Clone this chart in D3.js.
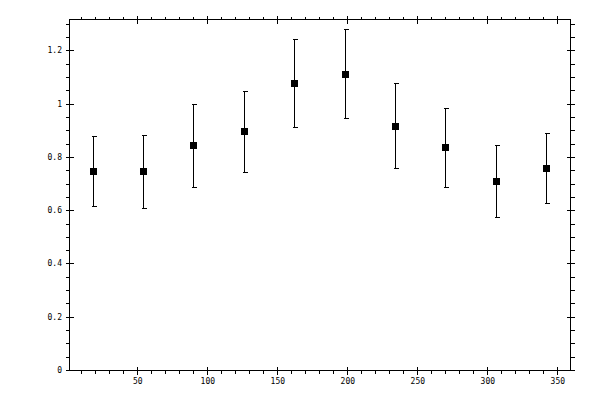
<!DOCTYPE html>
<html>
<head>
<meta charset="utf-8">
<script src="https://cdn.jsdelivr.net/npm/d3@7"></script>
<style>
  body { margin: 0; background: #fff; }
  svg { display: block; }
  .lbl { font-family: "DejaVu Sans Mono", monospace; font-size: 8px; fill: #000; }
</style>
</head>
<body>
<div id="chart"></div>
<script>
// bin centres and measured values
var binX = [18, 54, 90, 126, 162, 198, 234, 270, 306, 342];
var valY = [0.746, 0.746, 0.844, 0.896, 1.077, 1.111, 0.915, 0.836, 0.708, 0.757];
var errLo = [0.614, 0.607, 0.689, 0.743, 0.911, 0.945, 0.757, 0.686, 0.573, 0.626];
var errHi = [0.877, 0.882, 0.998, 1.048, 1.242, 1.280, 1.077, 0.983, 0.844, 0.889];

var xMajor = [50, 100, 150, 200, 250, 300, 350];
var yMajor = [0, 0.2, 0.4, 0.6, 0.8, 1, 1.2];

var W = 600, H = 400;
var pLeft = 69, pRight = 570, pTop = 19, pBottom = 370;

var svg = d3.select("#chart").append("svg")
	.attr("width", W).attr("height", H)
	.attr("shape-rendering", "crispEdges");

var x = d3.scaleLinear().domain([1.21, 359.07]).range([pLeft, pRight]);
var y = d3.scaleLinear().domain([0, 1.318]).range([pBottom, pTop]);

// minor ticks every 10 on x, every 0.05 on y
var xMinor = d3.range(10, 360, 10).filter(function(v){ return v % 50 != 0; });
var yMinor = d3.range(1, 27).map(function(i){ return i * 0.05; })
	.filter(function(v){ return Math.abs(v * 5 - Math.round(v * 5)) > 1e-6; });

var g = svg.append("g").attr("stroke", "#000").attr("stroke-width", 1).attr("fill", "none");

// frame
g.append("rect")
	.attr("x", pLeft + 0.5).attr("y", pTop + 0.5)
	.attr("width", pRight - pLeft).attr("height", pBottom - pTop);

function px(v){ return Math.round(v) + 0.5; }

// x ticks (bottom + top), minors point outward, majors cross the frame
g.selectAll(".xmin").data(xMinor).enter().append("path")
	.attr("d", function(d){
		var p = px(x(d));
		return "M" + p + "," + (pBottom + 0.5) + "V" + (pBottom + 3.5) +
			"M" + p + "," + (pTop + 0.5) + "V" + (pTop - 2.5);
	});
g.selectAll(".xmaj").data(xMajor).enter().append("path")
	.attr("d", function(d){
		var p = px(x(d));
		return "M" + p + "," + (pBottom - 3.5) + "V" + (pBottom + 4.5) +
			"M" + p + "," + (pTop - 3.5) + "V" + (pTop + 4.5);
	});

// y ticks (left + right)
g.selectAll(".ymin").data(yMinor).enter().append("path")
	.attr("d", function(d){
		var p = px(y(d));
		return "M" + (pLeft + 0.5) + "," + p + "H" + (pLeft - 3.5) +
			"M" + (pRight + 0.5) + "," + p + "H" + (pRight + 4.5);
	});
g.selectAll(".ymaj").data(yMajor).enter().append("path")
	.attr("d", function(d){
		var p = px(y(d));
		return "M" + (pLeft - 3.5) + "," + p + "H" + (pLeft + 4.5) +
			"M" + (pRight - 3.5) + "," + p + "H" + (pRight + 4.5);
	});

// tick labels
svg.selectAll(".xl").data(xMajor).enter().append("text")
	.attr("class", "lbl")
	.attr("x", function(d){ return x(d) + 0.5; })
	.attr("y", pBottom + 14)
	.attr("text-anchor", "middle")
	.text(function(d){ return d; });

svg.selectAll(".yl").data(yMajor).enter().append("text")
	.attr("class", "lbl")
	.attr("x", pLeft - 7)
	.attr("y", function(d){ return y(d) + 3; })
	.attr("text-anchor", "end")
	.text(function(d){ return d3.format("~g")(d); });

// error bars
var pts = binX.map(function(v, i){ return { x: v, y: valY[i], lo: errLo[i], hi: errHi[i] }; });

var eb = svg.append("g").attr("stroke", "#000").attr("stroke-width", 1).attr("fill", "none");
eb.selectAll(".err").data(pts).enter().append("path")
	.attr("d", function(d){
		var cx = px(x(d.x)), t = px(y(d.hi)), b = px(y(d.lo));
		return "M" + cx + "," + t + "V" + b +
			"M" + (cx - 2) + "," + t + "H" + (cx + 3) +
			"M" + (cx - 2) + "," + b + "H" + (cx + 3);
	});

// square markers
svg.selectAll(".mk").data(pts).enter().append("rect")
	.attr("x", function(d){ return Math.round(x(d.x)) - 3; })
	.attr("y", function(d){ return Math.round(y(d.y)) - 3; })
	.attr("width", 7).attr("height", 7)
	.attr("fill", "#000");
</script>
</body>
</html>
